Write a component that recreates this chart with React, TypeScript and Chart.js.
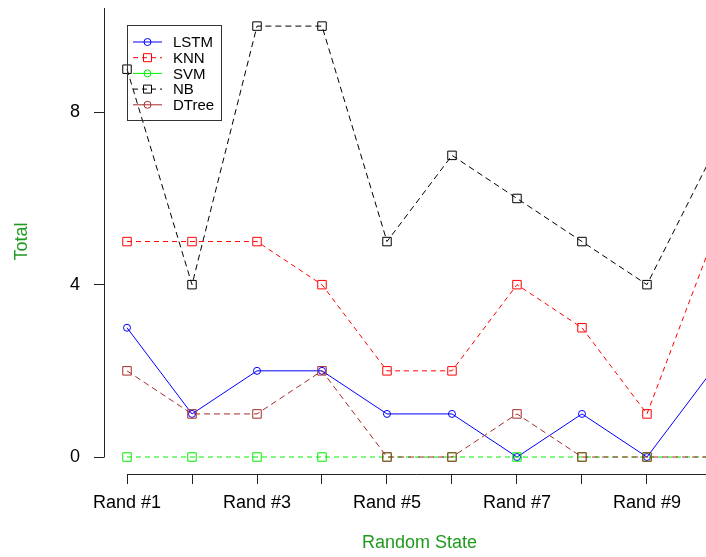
import React, { useEffect, useRef } from 'react';
import { Chart, registerables } from 'chart.js';

Chart.register(...registerables);

const categories = ['Rand #1', 'Rand #2', 'Rand #3', 'Rand #4', 'Rand #5', 'Rand #6', 'Rand #7', 'Rand #8', 'Rand #9', 'Rand #10'];
const lstm = [3, 1, 2, 2, 1, 1, 0, 1, 0, 2];
const knn = [5, 5, 5, 4, 2, 2, 4, 3, 1, 5];
const svm = [0, 0, 0, 0, 0, 0, 0, 0, 0, 0];
const nb = [9, 4, 10, 10, 5, 7, 6, 5, 4, 7];
const dtree = [2, 1, 1, 2, 0, 0, 1, 0, 0, 0];
const yTicks = [0, 4, 8];
const seriesNames = ['LSTM', 'KNN', 'SVM', 'NB', 'DTree'];
const xTitle = 'Random State';
const yTitle = 'Total';

const FONT = '"Liberation Sans", Arial, sans-serif';
const TITLE_GREEN = '#1f9a1f';

const styles = [
  { color: '#0000ff', dash: [] as number[], point: 'circle', legendDash: [] as number[], legendPoint: 'circle' },
  { color: '#ff0000', dash: [5, 4], point: 'rect', legendDash: [5, 4], legendPoint: 'rect' },
  { color: '#00ee00', dash: [5, 4], point: 'rect', legendDash: [], legendPoint: 'circle' },
  { color: '#000000', dash: [6, 4], point: 'rect', legendDash: [5, 4], legendPoint: 'rect' },
  { color: '#a52a2a', dash: [6, 4], point: 'rect', legendDash: [], legendPoint: 'circle' },
];

const seriesValues = [lstm, knn, svm, nb, dtree];

function drawMarker(ctx: CanvasRenderingContext2D, kind: string, x: number, y: number) {
  ctx.beginPath();
  if (kind === 'circle') {
    ctx.arc(x, y, 3.5, 0, Math.PI * 2);
  } else {
    ctx.rect(x - 4, y - 4, 8, 8);
  }
  ctx.stroke();
}

const overlayPlugin = {
  id: 'overlay',
  afterDraw(chart: any) {
    const ctx: CanvasRenderingContext2D = chart.ctx;
    const xs = chart.scales.x;
    const ys = chart.scales.y;
    const area = chart.chartArea;
    ctx.save();
    // axis lines
    ctx.strokeStyle = '#222';
    ctx.lineWidth = 1;
    ctx.setLineDash([]);
    ctx.beginPath();
    const lx = Math.round(area.left) + 0.5;
    ctx.moveTo(lx, area.top);
    ctx.lineTo(lx, Math.round(ys.getPixelForValue(0)) + 0.5);
    const by = Math.round(area.bottom) + 0.5;
    ctx.moveTo(Math.round(xs.getPixelForValue(1)) + 0.5, by);
    ctx.lineTo(area.right, by);
    ctx.stroke();

    // axis titles
    ctx.fillStyle = TITLE_GREEN;
    ctx.font = `18px ${FONT}`;
    ctx.textAlign = 'center';
    ctx.textBaseline = 'middle';
    ctx.fillText(xTitle, xs.getPixelForValue(5.5), 543);
    ctx.save();
    ctx.translate(22, ys.getPixelForValue(5));
    ctx.rotate(-Math.PI / 2);
    ctx.fillText(yTitle, 0, 0);
    ctx.restore();

    // legend
    const bx = 127.5, bt = 25.5, bw = 94, bh = 95;
    ctx.strokeStyle = '#333';
    ctx.lineWidth = 1;
    ctx.strokeRect(bx, bt, bw, bh);
    ctx.font = `15px ${FONT}`;
    ctx.textAlign = 'left';
    ctx.textBaseline = 'middle';
    seriesNames.forEach((name, i) => {
      const st = styles[i];
      const ry = 42 + i * 15.7;
      ctx.strokeStyle = st.color;
      ctx.lineWidth = 1;
      ctx.setLineDash(st.legendDash);
      ctx.beginPath();
      ctx.moveTo(133, ry);
      ctx.lineTo(162, ry);
      ctx.stroke();
      ctx.setLineDash([]);
      drawMarker(ctx, st.legendPoint, 147.5, ry);
      ctx.fillStyle = '#000';
      ctx.fillText(name, 173, ry + 1);
    });
    ctx.restore();
  },
};

export default function App() {
  const ref = useRef<HTMLCanvasElement | null>(null);
  useEffect(() => {
    if (!ref.current) return;
    const chart = new Chart(ref.current, {
      type: 'line',
      data: {
        datasets: seriesNames.map((name, i) => ({
          label: name,
          data: seriesValues[i].map((v, j) => ({ x: j + 1, y: v })),
          borderColor: styles[i].color,
          backgroundColor: 'rgba(0,0,0,0)',
          borderWidth: 1,
          borderDash: styles[i].dash,
          pointStyle: styles[i].point as any,
          pointRadius: styles[i].point === 'rect' ? 6 : 3.5,
          pointBorderColor: styles[i].color,
          pointBackgroundColor: 'rgba(0,0,0,0)',
          pointBorderWidth: 1,
          tension: 0,
          fill: false,
          order: seriesNames.length - i,
        })),
      },
      options: {
        responsive: false,
        animation: false,
        layout: { autoPadding: false, padding: { top: 8, right: 0, left: 0, bottom: 0 } },
        plugins: { legend: { display: false }, tooltip: { enabled: false }, title: { display: false } },
        scales: {
          x: {
            type: 'linear',
            min: 0.646,
            max: 9.908,
            afterBuildTicks: (scale: any) => {
              scale.ticks = categories.slice(0, 9).map((_, i) => ({ value: i + 1 }));
            },
            afterFit: (scale: any) => {
              scale.height = 83;
              scale.paddingLeft = 0;
              scale.paddingRight = 0;
            },
            border: { display: false },
            grid: { display: true, drawOnChartArea: false, drawTicks: true, tickLength: 10, color: '#222', lineWidth: 1 },
            ticks: {
              autoSkip: false,
              maxRotation: 0,
              padding: 8,
              color: '#000',
              font: { family: FONT, size: 18 },
              callback: (v: any) => {
                const i = Math.round(Number(v)) - 1;
                return i % 2 === 0 ? categories[i] : '';
              },
            },
          },
          y: {
            type: 'linear',
            min: -0.394,
            max: 10.42,
            afterBuildTicks: (scale: any) => {
              scale.ticks = yTicks.map((v) => ({ value: v }));
            },
            afterFit: (scale: any) => {
              scale.width = 104;
              scale.paddingTop = 0;
              scale.paddingBottom = 0;
            },
            border: { display: false },
            grid: { display: true, drawOnChartArea: false, drawTicks: true, tickLength: 10, color: '#222', lineWidth: 1 },
            ticks: {
              padding: 14,
              color: '#000',
              font: { family: FONT, size: 18 },
              callback: (v: any) => String(v),
            },
          },
        },
      },
      plugins: [overlayPlugin],
    });
    return () => chart.destroy();
  }, []);
  return (
    <div style={{ position: 'absolute', left: 0, top: 0, width: 706, height: 557, background: '#fff' }}>
      <canvas ref={ref} width={706} height={557} style={{ display: 'block' }} />
    </div>
  );
}
